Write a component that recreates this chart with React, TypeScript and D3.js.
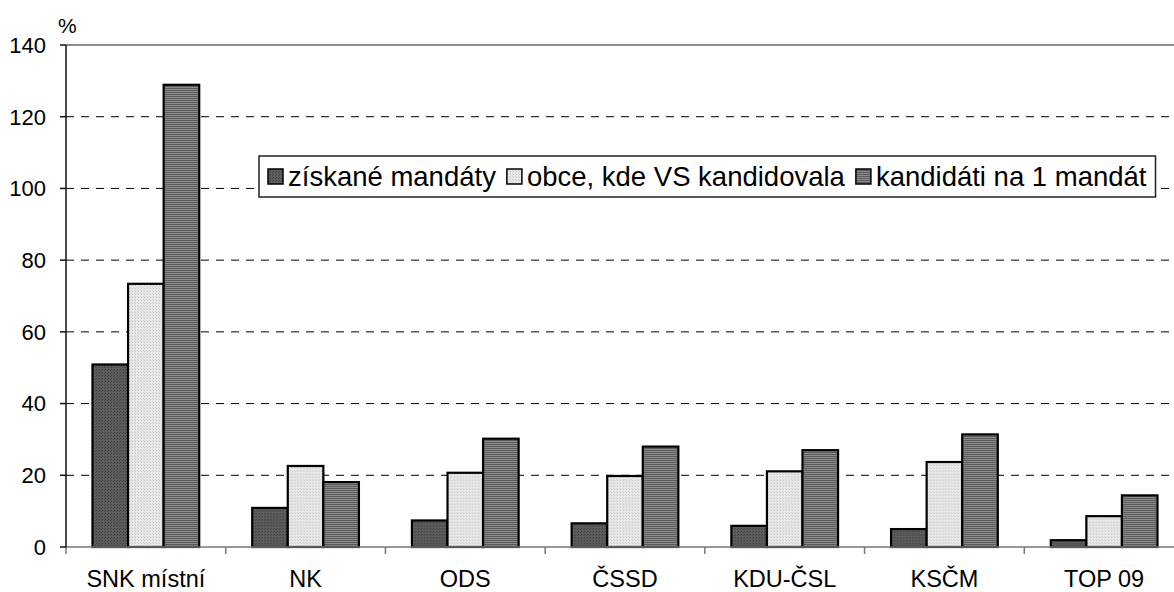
import React, { useEffect, useRef } from "react";
import * as d3 from "d3";

// party labels on the x axis
const categories = ["SNK místní", "NK", "ODS", "ČSSD", "KDU-ČSL", "KSČM", "TOP 09"];
// series values, in %
const seriesNames = ["získané mandáty", "obce, kde VS kandidovala", "kandidáti na 1 mandát"];
const mandates = [50.9, 10.9, 7.4, 6.6, 5.9, 5.0, 1.9];
const municipalities = [73.4, 22.6, 20.7, 19.8, 21.1, 23.7, 8.6];
const candidates = [128.9, 18.1, 30.2, 28.0, 27.0, 31.4, 14.4];
const yTicks = [0, 20, 40, 60, 80, 100, 120, 140];

const FONT = "'Liberation Sans', Arial, sans-serif";

export default function App() {
  const svgRef = useRef<SVGSVGElement>(null);

  useEffect(() => {
    const width = 1174;
    const height = 592;
    const margin = { top: 45, left: 66, bottom: 45, right: -10 };
    const svg = d3.select(svgRef.current);
    svg.selectAll("*").remove();
    svg.attr("width", width).attr("height", height);

    const defs = svg.append("defs");
    // dark dotted fill
    const p1 = defs.append("pattern").attr("id", "pDark").attr("width", 3).attr("height", 3).attr("patternUnits", "userSpaceOnUse");
    p1.append("rect").attr("width", 3).attr("height", 3).attr("fill", "#5e5e5e");
    p1.append("rect").attr("width", 1).attr("height", 1).attr("fill", "#3a3a3a");
    p1.append("rect").attr("x", 2).attr("y", 1).attr("width", 1).attr("height", 1).attr("fill", "#444");
    // light dotted fill
    const p2 = defs.append("pattern").attr("id", "pLight").attr("width", 3).attr("height", 3).attr("patternUnits", "userSpaceOnUse");
    p2.append("rect").attr("width", 3).attr("height", 3).attr("fill", "#e8e8e8");
    p2.append("rect").attr("width", 1).attr("height", 1).attr("fill", "#c4c4c4");
    p2.append("rect").attr("x", 2).attr("y", 2).attr("width", 1).attr("height", 1).attr("fill", "#cfcfcf");
    // horizontal stripes
    const p3 = defs.append("pattern").attr("id", "pStripe").attr("width", 4).attr("height", 2).attr("patternUnits", "userSpaceOnUse");
    p3.append("rect").attr("width", 4).attr("height", 2).attr("fill", "#8a8a8a");
    p3.append("rect").attr("width", 4).attr("height", 1).attr("fill", "#5c5c5c");
    const fills = ["url(#pDark)", "url(#pLight)", "url(#pStripe)"];

    const x0 = margin.left;
    const x1 = width - margin.right;
    const yBottom = height - margin.bottom;

    const x = d3.scaleBand().domain(categories).range([x0, x1]);
    const xInner = d3.scaleBand().domain(seriesNames).range([0, x.bandwidth()]).paddingOuter(0.745).paddingInner(0);
    const y = d3.scaleLinear().domain([0, 140]).range([yBottom, margin.top]);

    // gridlines
    svg.append("g")
      .selectAll("line")
      .data(yTicks.filter((t) => t > 0 && t < 140))
      .enter()
      .append("line")
      .attr("x1", x0)
      .attr("x2", width)
      .attr("y1", (d) => y(d))
      .attr("y2", (d) => y(d))
      .attr("stroke", "#000")
      .attr("stroke-width", 1)
      .attr("stroke-dasharray", "8,7");

    // top border
    svg.append("line")
      .attr("x1", x0).attr("x2", width)
      .attr("y1", y(140)).attr("y2", y(140))
      .attr("stroke", "#8c8c8c").attr("stroke-width", 2);

    // bars
    const rows = categories.map((c, i) => ({ cat: c, vals: [mandates[i], municipalities[i], candidates[i]] }));
    const groups = svg.append("g")
      .selectAll("g")
      .data(rows)
      .enter()
      .append("g")
      .attr("transform", (d) => `translate(${x(d.cat)},0)`);
    groups.selectAll("rect")
      .data((d) => d.vals.map((v, k) => ({ v, k })))
      .enter()
      .append("rect")
      .attr("x", (d) => xInner(seriesNames[d.k]) as number)
      .attr("y", (d) => y(d.v))
      .attr("width", xInner.bandwidth())
      .attr("height", (d) => yBottom - y(d.v))
      .attr("fill", (d) => fills[d.k])
      .attr("stroke", "#000")
      .attr("stroke-width", 2.2);

    // x axis
    svg.append("line")
      .attr("x1", x0).attr("x2", width)
      .attr("y1", yBottom).attr("y2", yBottom)
      .attr("stroke", "#777").attr("stroke-width", 1.5);
    svg.append("g")
      .selectAll("line")
      .data(categories)
      .enter()
      .append("line")
      .attr("x1", (d) => x(d) as number)
      .attr("x2", (d) => x(d) as number)
      .attr("y1", yBottom)
      .attr("y2", yBottom + 7)
      .attr("stroke", "#777")
      .attr("stroke-width", 1.5);
    svg.append("g")
      .selectAll("text")
      .data(categories)
      .enter()
      .append("text")
      .attr("x", (d) => (x(d) as number) + x.bandwidth() / 2)
      .attr("y", yBottom + 40)
      .attr("text-anchor", "middle")
      .style("font-family", FONT)
      .style("font-size", "23.5px")
      .text((d) => d);

    // y axis
    svg.append("line")
      .attr("x1", x0).attr("x2", x0)
      .attr("y1", y(140)).attr("y2", yBottom)
      .attr("stroke", "#111").attr("stroke-width", 1.5);
    svg.append("g")
      .selectAll("line")
      .data(yTicks)
      .enter()
      .append("line")
      .attr("x1", x0 - 6)
      .attr("x2", x0)
      .attr("y1", (d) => y(d))
      .attr("y2", (d) => y(d))
      .attr("stroke", "#111")
      .attr("stroke-width", 1.5);
    svg.append("g")
      .selectAll("text")
      .data(yTicks)
      .enter()
      .append("text")
      .attr("x", 46)
      .attr("y", (d) => y(d))
      .attr("dy", "0.36em")
      .attr("text-anchor", "end")
      .style("font-family", FONT)
      .style("font-size", "22px")
      .text((d) => d);

    svg.append("text")
      .attr("x", 58)
      .attr("y", 33)
      .style("font-family", FONT)
      .style("font-size", "21px")
      .text("%");

    // legend
    const lg = svg.append("g");
    const box = lg.append("rect")
      .attr("x", 259).attr("y", 156).attr("width", 888).attr("height", 41)
      .attr("fill", "#fff").attr("stroke", "#222").attr("stroke-width", 1.5);
    let cx = 268;
    seriesNames.forEach((name, k) => {
      lg.append("rect")
        .attr("x", cx).attr("y", 169).attr("width", 15).attr("height", 15)
        .attr("fill", fills[k]).attr("stroke", "#000").attr("stroke-width", 1.5);
      const t = lg.append("text")
        .attr("x", cx + 20)
        .attr("y", 186)
        .style("font-family", FONT)
        .style("font-size", "27.5px")
        .text(name);
      const w = (t.node() as SVGTextElement).getComputedTextLength();
      cx += 20 + w + 11;
    });
    box.attr("width", cx - 259 - 2);
  }, []);

  return <svg ref={svgRef} style={{ position: "absolute", left: 0, top: 0, background: "#fff" }} />;
}
